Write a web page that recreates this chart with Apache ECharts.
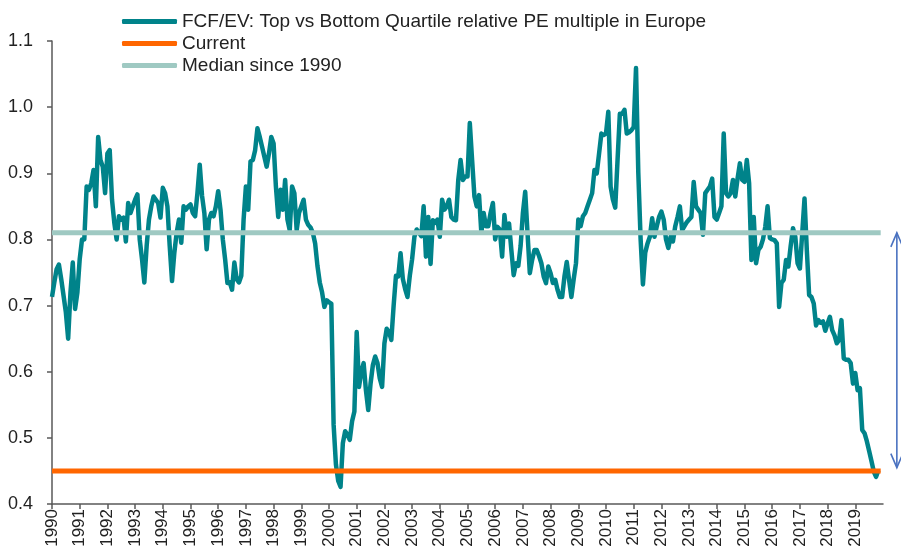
<!DOCTYPE html>
<html>
<head>
<meta charset="utf-8">
<title>FCF/EV relative PE</title>
<script src="https://cdn.jsdelivr.net/npm/echarts@6/dist/echarts.min.js"></script>
<style>
  html, body { margin: 0; padding: 0; background: #fff; }
  #main { width: 901px; height: 560px; }
</style>
</head>
<body>
<div id="main"></div>
<script>
// monthly values, Jan 1990 .. Nov 2019
const startYear = 1990
const fcfEv = [
  0.713, 0.735, 0.755, 0.762, 0.74, 0.715, 0.69, 0.65, 0.72, 0.765, 0.695, 0.72, // 1990
  0.77, 0.80, 0.80, 0.88, 0.875, 0.885, 0.905, 0.85, 0.955, 0.92, 0.91, 0.87, // 1991
  0.93, 0.935, 0.86, 0.825, 0.80, 0.835, 0.83, 0.833, 0.797, 0.855, 0.84, 0.85, // 1992
  0.86, 0.868, 0.80, 0.77, 0.735, 0.79, 0.83, 0.85, 0.865, 0.86, 0.855, 0.833, // 1993
  0.878, 0.87, 0.85, 0.79, 0.737, 0.78, 0.81, 0.83, 0.795, 0.85, 0.845, 0.85, // 1994
  0.853, 0.84, 0.835, 0.87, 0.913, 0.866, 0.84, 0.785, 0.83, 0.84, 0.835, 0.85, // 1995
  0.873, 0.845, 0.80, 0.77, 0.734, 0.735, 0.724, 0.765, 0.74, 0.735, 0.745, 0.83, // 1996
  0.88, 0.845, 0.918, 0.92, 0.935, 0.968, 0.955, 0.94, 0.925, 0.91, 0.93, 0.955, // 1997
  0.945, 0.88, 0.834, 0.875, 0.845, 0.89, 0.83, 0.814, 0.88, 0.87, 0.814, 0.84, // 1998
  0.85, 0.86, 0.83, 0.822, 0.818, 0.81, 0.794, 0.76, 0.735, 0.72, 0.698, 0.708, // 1999
  0.705, 0.703, 0.52, 0.46, 0.435, 0.426, 0.492, 0.51, 0.505, 0.497, 0.525, 0.54, // 2000
  0.66, 0.577, 0.60, 0.613, 0.572, 0.542, 0.582, 0.61, 0.623, 0.613, 0.59, 0.577, // 2001
  0.643, 0.665, 0.66, 0.648, 0.70, 0.745, 0.744, 0.779, 0.74, 0.725, 0.713, 0.745, // 2002
  0.77, 0.804, 0.815, 0.81, 0.805, 0.85, 0.774, 0.834, 0.763, 0.829, 0.825, 0.83, // 2003
  0.804, 0.86, 0.845, 0.85, 0.86, 0.834, 0.83, 0.829, 0.89, 0.92, 0.89, 0.895, // 2004
  0.895, 0.976, 0.92, 0.865, 0.85, 0.867, 0.81, 0.84, 0.82, 0.82, 0.84, 0.855, // 2005
  0.80, 0.819, 0.815, 0.774, 0.837, 0.804, 0.824, 0.784, 0.746, 0.764, 0.76, 0.79, // 2006
  0.84, 0.872, 0.81, 0.749, 0.769, 0.784, 0.784, 0.775, 0.764, 0.744, 0.734, 0.759, // 2007
  0.749, 0.734, 0.739, 0.724, 0.713, 0.713, 0.744, 0.766, 0.739, 0.713, 0.74, 0.764, // 2008
  0.83, 0.82, 0.835, 0.84, 0.85, 0.86, 0.87, 0.905, 0.90, 0.93, 0.96, 0.958, // 2009
  0.96, 0.993, 0.88, 0.86, 0.848, 0.92, 0.99, 0.99, 0.996, 0.96, 0.962, 0.965, // 2010
  0.97, 1.059, 0.90, 0.80, 0.732, 0.78, 0.794, 0.804, 0.832, 0.804, 0.82, 0.834, // 2011
  0.842, 0.83, 0.80, 0.787, 0.804, 0.797, 0.82, 0.834, 0.85, 0.814, 0.82, 0.826, // 2012
  0.83, 0.834, 0.887, 0.85, 0.845, 0.84, 0.807, 0.87, 0.875, 0.88, 0.892, 0.834, // 2013
  0.83, 0.84, 0.85, 0.96, 0.87, 0.865, 0.87, 0.89, 0.865, 0.892, 0.915, 0.89, // 2014
  0.887, 0.92, 0.885, 0.769, 0.834, 0.764, 0.784, 0.789, 0.80, 0.819, 0.85, 0.802, // 2015
  0.80, 0.799, 0.794, 0.698, 0.734, 0.739, 0.769, 0.759, 0.79, 0.817, 0.804, 0.764, // 2016
  0.756, 0.809, 0.862, 0.784, 0.716, 0.713, 0.703, 0.67, 0.678, 0.674, 0.676, 0.662, // 2017
  0.673, 0.683, 0.663, 0.655, 0.643, 0.648, 0.678, 0.62, 0.618, 0.618, 0.613, 0.582, // 2018
  0.598, 0.572, 0.575, 0.512, 0.507, 0.495, 0.48, 0.465, 0.449, 0.441, 0.451 // 2019
]
const currentLevel = 0.45
const medianLevel = 0.81
const yearTicks = [1990, 1991, 1992, 1993, 1994, 1995, 1996, 1997, 1998, 1999,
  2000, 2001, 2002, 2003, 2004, 2005, 2006, 2007, 2008, 2009,
  2010, 2011, 2012, 2013, 2014, 2015, 2016, 2017, 2018, 2019]
const yTicks = [0.4, 0.5, 0.6, 0.7, 0.8, 0.9, 1.0, 1.1]
// the double arrow on the right, in data units
const gapArrow = { x: 2020.5, top: 0.81, bottom: 0.455 }

const names = [
  'FCF/EV: Top vs Bottom Quartile relative PE multiple in Europe',
  'Current',
  'Median since 1990'
]

const chartDom = document.getElementById('main')
const myChart = echarts.init(chartDom)

const lastX = startYear + fcfEv.length / 12
const seriesData = fcfEv.map((v, i) => [startYear + i / 12, v])
const font = 'Liberation Sans, Arial, sans-serif'
const axisColor = '#595959'

const option = {
  animation: false,
  legend: {
    orient: 'vertical',
    left: 117,
    top: 7,
    itemWidth: 55,
    itemHeight: 5,
    itemGap: 3,
    icon: 'roundRect',
    textStyle: { fontFamily: font, fontSize: 19, lineHeight: 19, color: '#222' },
    data: names
  },
  grid: { left: 52, right: 18, top: 41, bottom: 56, outerBoundsMode: 'none' },
  xAxis: {
    type: 'value',
    min: yearTicks[0],
    max: yearTicks[yearTicks.length - 1] + 1,
    interval: 1,
    splitLine: { show: false },
    axisLine: { lineStyle: { color: axisColor, width: 1.5 } },
    axisTick: { show: true, length: 5, customValues: yearTicks, lineStyle: { color: axisColor, width: 1.5 } },
    axisLabel: {
      customValues: yearTicks,
      rotate: 90,
      margin: 5,
      fontFamily: font,
      fontSize: 17,
      color: '#222',
      formatter: v => String(Math.round(v))
    }
  },
  yAxis: {
    type: 'value',
    min: yTicks[0],
    max: yTicks[yTicks.length - 1],
    interval: 0.1,
    splitLine: { show: false },
    axisLine: { show: true, lineStyle: { color: axisColor, width: 1.5 } },
    axisTick: { show: true, length: 5, lineStyle: { color: axisColor, width: 1.5 } },
    axisLabel: {
      margin: 19,
      fontFamily: font,
      fontSize: 18,
      color: '#222',
      formatter: v => v.toFixed(1)
    }
  },
  series: [
    {
      name: names[0],
      type: 'line',
      showSymbol: false,
      color: '#00838A',
      lineStyle: { width: 4.5, join: 'round' },
      data: seriesData
    },
    {
      name: names[1],
      type: 'line',
      showSymbol: false,
      color: '#FF6600',
      lineStyle: { width: 5 },
      data: [[startYear, currentLevel], [lastX, currentLevel]]
    },
    {
      name: names[2],
      type: 'line',
      showSymbol: false,
      color: '#9FC9C2',
      lineStyle: { width: 5 },
      data: [[startYear, medianLevel], [lastX, medianLevel]]
    }
  ]
}

myChart.setOption(option)

// double arrow past the end of the axis, placed through the chart's own scales
const arrowTop = myChart.convertToPixel({ gridIndex: 0 }, [gapArrow.x, gapArrow.top])
const arrowBottom = myChart.convertToPixel({ gridIndex: 0 }, [gapArrow.x, gapArrow.bottom])
const arrowStyle = { stroke: '#4A72C0', lineWidth: 1.6, fill: null }
const headW = 6
const headH = 14
myChart.setOption({
  graphic: [
    {
      type: 'line',
      silent: true,
      shape: { x1: arrowTop[0], y1: arrowTop[1], x2: arrowBottom[0], y2: arrowBottom[1] },
      style: arrowStyle
    },
    {
      type: 'polyline',
      silent: true,
      shape: {
        points: [[arrowTop[0] - headW, arrowTop[1] + headH], [arrowTop[0], arrowTop[1]], [arrowTop[0] + headW, arrowTop[1] + headH]]
      },
      style: arrowStyle
    },
    {
      type: 'polyline',
      silent: true,
      shape: {
        points: [[arrowBottom[0] - headW, arrowBottom[1] - headH], [arrowBottom[0], arrowBottom[1]], [arrowBottom[0] + headW, arrowBottom[1] - headH]]
      },
      style: arrowStyle
    }
  ]
})
</script>
</body>
</html>
